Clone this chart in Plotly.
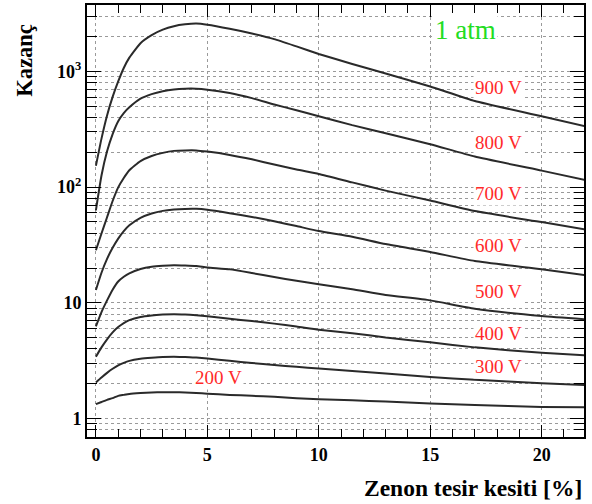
import plotly.graph_objects as go

# Xenon fraction [%]
xenon = [0, 0.25, 0.5, 0.75, 1, 1.25, 1.5, 2, 2.5, 3, 3.5, 4, 4.5, 5, 6, 7, 8, 9, 10, 11.5, 13, 15, 17, 20, 22]

gain_900 = [153, 263, 417, 603, 820, 1072, 1318, 1758, 2065, 2301, 2466, 2559, 2600, 2541, 2344, 2128, 1905, 1648, 1419, 1161, 961, 743, 556, 411, 334]
gain_800 = [63, 126, 204, 288, 372, 437, 490, 582, 638, 676, 700, 710, 710, 697, 652, 589, 519, 462, 411, 344, 293, 235, 184, 139, 115]
gain_700 = [28.5, 39.8, 55, 75.9, 99.5, 120, 140, 168, 186, 198, 206, 208, 208, 203, 190, 174, 157, 142, 130, 110, 93.3, 76.6, 62.1, 49.9, 43.0]
gain_600 = [12.9, 18.2, 24, 29.9, 35.9, 41.7, 46.8, 54.3, 59.2, 62.4, 64.1, 64.9, 65, 63.8, 59.6, 55.3, 50.7, 46.1, 41.8, 37.3, 32.2, 27.5, 23, 19.5, 17.3]
gain_500 = [6.27, 8.32, 10.5, 13, 15.3, 16.8, 18, 19.6, 20.5, 20.9, 21.1, 21, 20.8, 20.2, 19.5, 18.1, 16.7, 15.5, 14.5, 13.1, 11.7, 10.5, 8.9, 7.7, 7.2]
gain_400 = [3.42, 4.12, 4.84, 5.56, 6.17, 6.68, 7.08, 7.55, 7.78, 7.91, 7.98, 7.93, 7.82, 7.66, 7.29, 6.95, 6.61, 6.24, 5.86, 5.47, 5.01, 4.56, 4.12, 3.70, 3.51]
gain_300 = [2.05, 2.26, 2.48, 2.69, 2.88, 3.03, 3.15, 3.28, 3.35, 3.40, 3.41, 3.40, 3.36, 3.30, 3.15, 3.02, 2.90, 2.80, 2.70, 2.57, 2.45, 2.28, 2.16, 2.02, 1.94]
gain_200 = [1.33, 1.39, 1.45, 1.50, 1.57, 1.60, 1.63, 1.66, 1.68, 1.69, 1.69, 1.68, 1.66, 1.64, 1.60, 1.57, 1.54, 1.50, 1.47, 1.44, 1.40, 1.35, 1.31, 1.26, 1.25]

series = [gain_900, gain_800, gain_700, gain_600, gain_500, gain_400, gain_300, gain_200]

y_tickvals = [1, 10, 100, 1000]
y_ticktext = ["1", "10", "10<sup>2</sup>", "10<sup>3</sup>"]
x_tickvals = [0, 5, 10, 15, 20]

SERIF = "'Liberation Serif', 'Times New Roman', Times, serif"

fig = go.Figure()
for g in series:
    fig.add_trace(go.Scatter(x=xenon, y=g, mode="lines",
                             line=dict(color="#2a2a2a", width=2, shape="spline", smoothing=0.5),
                             showlegend=False, hoverinfo="skip"))

minor_y = [m * 10 ** e for e in range(-1, 4) for m in range(2, 10)]

fig.update_layout(
    width=592, height=504,
    margin=dict(l=87, r=8, t=3, b=67),
    paper_bgcolor="white", plot_bgcolor="white",
    font=dict(family=SERIF, color="black"),
)

fig.update_xaxes(
    range=[-0.4, 21.9],
    tickmode="array", tickvals=x_tickvals,
    ticktext=["<b>%d</b>" % v for v in x_tickvals],
    tickfont=dict(size=18, family=SERIF, color="black"),
    ticks="inside", ticklen=12, tickwidth=1, tickcolor="black",
    showline=True, linecolor="black", linewidth=2, mirror="allticks",
    showgrid=True, gridcolor="#9a9a9a", griddash="dot", gridwidth=1,
    minor=dict(dtick=1, ticks="inside", ticklen=8, tickcolor="black", showgrid=False),
    zeroline=False,
)
fig.update_yaxes(
    type="log", range=[-0.16, 3.575],
    tickmode="array", tickvals=y_tickvals,
    ticktext=["<b>%s</b>" % t for t in y_ticktext],
    tickfont=dict(size=18, family=SERIF, color="black"),
    ticks="inside", ticklen=14, tickwidth=1, tickcolor="black",
    showline=True, linecolor="black", linewidth=2, mirror="allticks",
    showgrid=True, gridcolor="#9a9a9a", griddash="dot", gridwidth=1,
    minor=dict(tickmode="array", tickvals=minor_y, ticks="inside", ticklen=10,
               tickcolor="black", showgrid=True, gridcolor="#9a9a9a", griddash="dot", gridwidth=1),
    zeroline=False,
)

labels = [("900 V", 2.863), ("800 V", 2.385), ("700 V", 1.942), ("600 V", 1.498),
          ("500 V", 1.097), ("400 V", 0.731), ("300 V", 0.453)]
for txt, ly in labels:
    fig.add_annotation(x=18.07, y=ly, text=txt, showarrow=False,
                       font=dict(family=SERIF, size=19, color="#ff2a2a"),
                       bgcolor="white", borderpad=1)
fig.add_annotation(x=5.49, y=0.354, text="200 V", showarrow=False,
                   font=dict(family=SERIF, size=19, color="#ff2a2a"),
                   bgcolor="white", borderpad=1)
fig.add_annotation(x=16.57, y=3.358, text="1 atm", showarrow=False,
                   font=dict(family=SERIF, size=27, color="#22dd22"),
                   bgcolor="white", borderpad=1)

fig.add_annotation(xref="paper", yref="paper", x=1.0, y=-0.1175, xanchor="right", yanchor="middle",
                   text="<b>Zenon tesir kesiti [%]</b>", showarrow=False,
                   font=dict(family=SERIF, size=23.5, color="black"))
fig.add_annotation(xref="paper", yref="paper", x=-0.1247, y=0.871, xanchor="center", yanchor="middle",
                   text="<b>Kazanç</b>", textangle=-90, showarrow=False,
                   font=dict(family=SERIF, size=22.5, color="black"))

fig.write_html("out.html")
